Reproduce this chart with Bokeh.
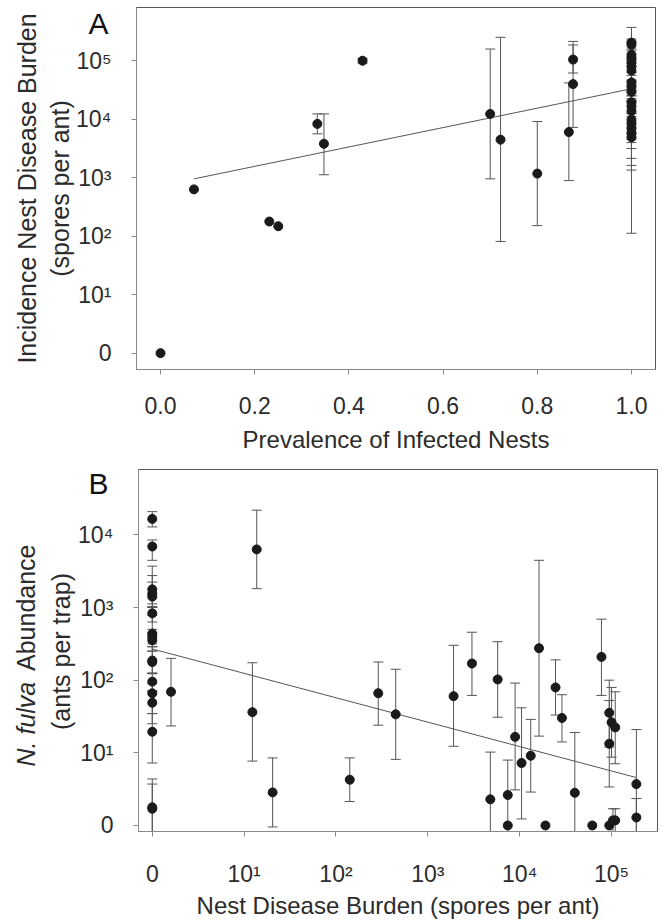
import numpy as np
from bokeh.plotting import figure
from bokeh.models import FixedTicker, GridBox, Range1d
from bokeh.embed import file_html
from bokeh.resources import INLINE
from bokeh.core.properties import value

nan = float("nan")

# ---------------- Panel A data (y in log10(burden + 1)) ----------------
a_prevalence = [0.0, 0.071, 0.231, 0.25, 0.333, 0.347, 0.429, 0.700, 0.722, 0.800, 0.867, 0.876, 0.876,
                1.0, 1.0, 1.0, 1.0, 1.0, 1.0, 1.0, 1.0, 1.0, 1.0, 1.0, 1.0, 1.0, 1.0, 1.0, 1.0, 1.0, 1.0]
a_log_burden = [0.0, 2.80, 2.25, 2.17, 3.92, 3.58, 5.00, 4.09, 3.65, 3.07, 3.78, 5.02, 4.60,
                5.31, 5.27, 5.10, 5.04, 4.97, 4.90, 4.83, 4.63, 4.55, 4.47, 4.29, 4.22, 4.14, 3.99, 3.92, 3.84, 3.76, 3.69]
a_err_low = [nan, nan, nan, nan, 3.75, 3.05, 4.96, 2.98, 1.91, 2.18, 2.95, 4.79, 3.86,
             5.20, 2.05, 4.67, 4.90, 4.58, 4.80, 4.49, 4.40, 4.45, 4.35, 3.50, 4.10, 3.33, 3.21, 3.13, 3.75, 3.66, 3.60]
a_err_high = [nan, nan, nan, nan, 4.09, 4.09, 5.04, 5.20, 5.40, 3.96, 4.62, 5.27, 5.33,
              5.37, 5.57, 5.33, 5.17, 5.05, 5.00, 4.95, 4.75, 4.65, 4.58, 4.40, 4.32, 4.30, 4.10, 4.05, 3.95, 3.86, 3.78]
a_fit_intercept = 2.862
a_fit_slope = 1.658
a_fit_x = [0.071, 1.0]
a_xticks = [0.0, 0.2, 0.4, 0.6, 0.8, 1.0]
a_xtick_labels = ["0.0", "0.2", "0.4", "0.6", "0.8", "1.0"]
a_yticks = [0, 1, 2, 3, 4, 5]
a_ytick_labels = ["0", "10¹", "10²", "10³", "10⁴", "10⁵"]
a_xlabel = "Prevalence of Infected Nests"
a_ylabel_lines = ["Incidence Nest Disease Burden", "(spores per ant)"]
a_panel_letter = "A"

# ---------------- Panel B data (both axes log10(v + 1)) ----------------
b_log_burden = [0, 0, 0, 0, 0, 0, 0, 0, 0, 0, 0, 0, 0, 0, 0, 0, 0,
                0.204, 1.09, 1.137, 1.31, 2.15, 2.46, 2.65, 3.28, 3.48, 3.68, 3.76, 3.87, 3.87, 3.95, 4.02,
                4.12, 4.21, 4.28, 4.39, 4.46, 4.60, 4.79, 4.89, 4.975, 5.00, 5.04, 4.975, 4.975, 5.015, 5.04,
                5.27, 5.27]
b_log_abundance = [4.22, 3.84, 3.25, 3.19, 3.15, 2.92, 2.64, 2.60, 2.55, 2.27, 2.25, 1.98, 1.82, 1.69, 1.29, 0.25, 0.23,
                   1.84, 1.56, 3.80, 0.455, 0.63, 1.82, 1.53, 1.78, 2.23, 0.36, 2.01, 0.42, 0.0, 1.22, 0.86,
                   0.96, 2.44, 0.0, 1.90, 1.48, 0.45, 0.0, 2.32, 1.55, 1.42, 1.35, 1.125, 0.0, 0.07, 0.07,
                   0.57, 0.11]
b_err_low = [4.11, 3.65, 3.01, 3.05, 3.00, 2.80, 2.46, 2.50, 2.40, 2.09, 2.10, 1.85, 1.54, 1.40, 0.86, -1, -1,
             1.37, 0.886, 3.26, -0.02, 0.33, 1.38, 0.91, 1.09, 1.79, -1, 1.49, -1, nan, 0.49, 0.09,
             0.46, 1.23, nan, 1.52, 1.15, -1, nan, 1.79, 1.08, 0.94, 0.85, 0.53, nan, -1, -1,
             -1, -1]
b_err_high = [4.32, 3.93, 3.57, 3.35, 3.44, 3.01, 2.89, 2.70, 2.65, 2.46, 2.40, 2.09, 1.95, 1.85, 1.54, 0.64, 0.57,
              2.30, 2.24, 4.34, 0.93, 0.93, 2.25, 2.15, 2.48, 2.66, 1.01, 2.53, 0.90, nan, 1.96, 1.62,
              1.46, 3.65, nan, 2.28, 1.80, 1.28, nan, 2.84, 2.00, 1.90, 1.84, 1.72, nan, 0.23, 0.23,
              1.32, 0.37]
b_fit_intercept = 2.43
b_fit_slope = -0.336
b_fit_x = [0.0, 5.27]
b_xticks = [0, 1, 2, 3, 4, 5]
b_xtick_labels = ["0", "10¹", "10²", "10³", "10⁴", "10⁵"]
b_yticks = [0, 1, 2, 3, 4]
b_ytick_labels = ["0", "10¹", "10²", "10³", "10⁴"]
b_xlabel = "Nest Disease Burden (spores per ant)"
b_ylabel_italic = "N. fulva"
b_ylabel_rest = "Abundance"
b_ylabel_line2 = "(ants per trap)"
b_panel_letter = "B"

FONT = "Liberation Sans"
TXT = "#2b2b2b"
AXC = "#8a8a8a"
ERR = "#555555"
DOT = "#1a1a1a"
W = 658
HA = 462
HB = 454


def style(p, xticks, xlabels, yticks, ylabels):
    p.frame_align = False
    p.xgrid.visible = False
    p.ygrid.visible = False
    p.outline_line_color = "#555555"
    p.outline_line_width = 1
    p.xaxis.ticker = FixedTicker(ticks=xticks)
    p.yaxis.ticker = FixedTicker(ticks=yticks)
    p.xaxis.major_label_overrides = {t: l for t, l in zip(xticks, xlabels)}
    p.yaxis.major_label_overrides = {t: l for t, l in zip(yticks, ylabels)}
    for ax in (p.xaxis[0], p.yaxis[0]):
        ax.axis_line_color = AXC
        ax.major_tick_line_color = AXC
        ax.minor_tick_line_color = None
        ax.major_tick_out = 5
        ax.major_tick_in = 0
        ax.major_label_text_font = FONT
        ax.major_label_text_font_size = "23px"
        ax.major_label_text_color = TXT
        ax.axis_label_text_font = FONT
        ax.axis_label_text_font_size = "24px"
        ax.axis_label_text_font_style = "normal"
        ax.axis_label_text_color = TXT
    p.yaxis.major_label_standoff = 20


def draw(p, x, y, lo, hi, fx, b0, b1):
    p.segment(x0=x, y0=lo, x1=x, y1=hi, line_color=ERR, line_width=1)
    p.scatter(x=x, y=lo, marker="dash", size=10, line_color=ERR, line_width=1)
    p.scatter(x=x, y=hi, marker="dash", size=10, line_color=ERR, line_width=1)
    fxa = np.array(fx)
    p.line(x=fxa, y=b0 + b1 * fxa, line_color="#555555", line_width=1)
    p.scatter(x=x, y=y, size=9, fill_color=DOT, line_color=DOT)


def overlay(h):
    o = figure(frame_width=W, frame_height=h, x_range=Range1d(0, W), y_range=Range1d(h, 0),
               x_axis_type=None, y_axis_type=None, output_backend="svg", toolbar_location=None,
               min_border=0, min_border_left=0, min_border_right=0, min_border_top=0, min_border_bottom=0)
    o.frame_align = False
    o.background_fill_color = None
    o.border_fill_color = None
    o.outline_line_color = None
    return o


def vtext(o, x, y, t, align="center", style="normal"):
    o.text(x=[x], y=[y], text=[t], angle=np.pi / 2, text_align=align, text_baseline="middle",
           text_font=value(FONT), text_font_size="25px", text_font_style=style, text_color=TXT)


def letter(o, x, y, t):
    o.text(x=[x], y=[y], text=[t], text_align="left", text_baseline="alphabetic",
           text_font=value(FONT), text_font_size="30px", text_color="#111111")


# ---------------- Figure A ----------------
pa = figure(frame_width=519, frame_height=362, x_range=(-0.051, 1.051), y_range=(-0.28, 5.91),
            output_backend="svg", toolbar_location=None,
            min_border_left=136, min_border_right=W - 136 - 519, min_border_top=7,
            min_border_bottom=HA - 7 - 362)
style(pa, a_xticks, a_xtick_labels, a_yticks, a_ytick_labels)
pa.xaxis.axis_label = a_xlabel
pa.xaxis.major_label_standoff = 22
pa.xaxis.axis_label_standoff = 9
draw(pa, a_prevalence, a_log_burden, a_err_low, a_err_high, a_fit_x, a_fit_intercept, a_fit_slope)

oa = overlay(HA)
vtext(oa, 26, 188, a_ylabel_lines[0])
vtext(oa, 59, 188, a_ylabel_lines[1])
letter(oa, 88, 23, a_panel_letter)

# ---------------- Figure B ----------------
pb = figure(frame_width=519, frame_height=362, x_range=(-0.15, 5.5), y_range=(-0.083, 4.9),
            output_backend="svg", toolbar_location=None,
            min_border_left=138, min_border_right=W - 138 - 519, min_border_top=7,
            min_border_bottom=HB - 7 - 362)
style(pb, b_xticks, b_xtick_labels, b_yticks, b_ytick_labels)
pb.xaxis.axis_label = b_xlabel
pb.xaxis.major_label_standoff = 24
pb.xaxis.axis_label_standoff = 2
draw(pb, b_log_burden, b_log_abundance, b_err_low, b_err_high, b_fit_x, b_fit_intercept, b_fit_slope)

ob = overlay(HB)
vtext(ob, 25, 304, b_ylabel_italic, align="left", style="italic")
vtext(ob, 25, 82, b_ylabel_rest, align="right")
vtext(ob, 60, 189, b_ylabel_line2)
letter(ob, 88, 21, b_panel_letter)

layout = GridBox(children=[(pa, 0, 0), (oa, 0, 0), (pb, 1, 0), (ob, 1, 0)], spacing=0)
with open("out.html", "w") as f:
    f.write(file_html(layout, INLINE))
